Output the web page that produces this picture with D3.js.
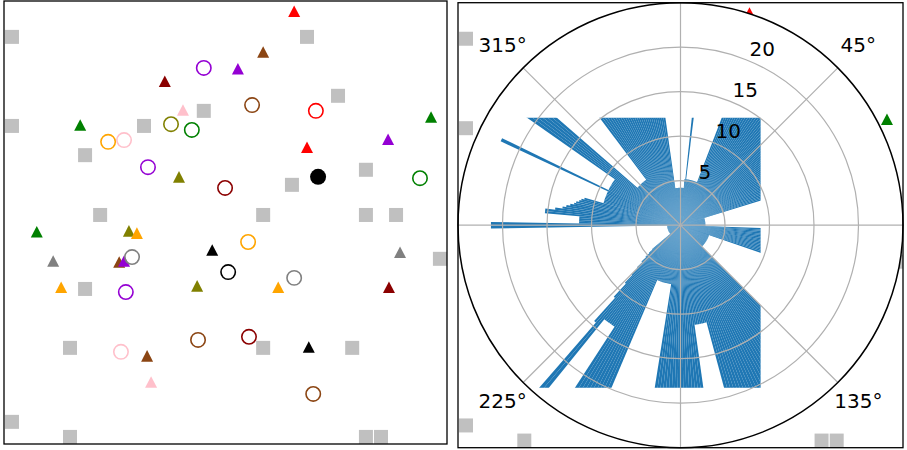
<!DOCTYPE html>
<html>
<head>
<meta charset="utf-8">
<script src="https://cdn.jsdelivr.net/npm/d3@7"></script>
<style>
  html, body { margin: 0; padding: 0; background: #fff; }
  svg { display: block; }
</style>
</head>
<body>
<div id="chart"></div>
<script>
// ---- scatter data (x, y in 0..100 data units) ----
const squarePoints = [
  [1.8, 91.9], [1.8, 71.8], [31.6, 71.8], [45.1, 75.2], [18.3, 65.2], [21.7, 51.7],
  [68.4, 91.9], [75.4, 78.6], [81.7, 61.9], [65.0, 58.5], [58.5, 51.7], [81.7, 51.7],
  [88.5, 51.7], [18.3, 35.0], [98.4, 41.8], [14.9, 21.7], [58.5, 21.7], [78.6, 21.7],
  [1.8, 5.0], [14.9, 1.6], [81.7, 1.6], [85.1, 1.6]
];
const trianglePoints = [
  [65.5, 97.7, "#ff0000"], [58.5, 88.5, "#8b4513"], [52.8, 84.7, "#9400d3"],
  [36.3, 81.9, "#8b0000"], [40.4, 75.4, "#ffc0cb"], [17.2, 72.0, "#008000"],
  [96.4, 73.8, "#008000"], [86.7, 68.8, "#9400d3"], [68.4, 67.0, "#ff0000"],
  [39.5, 60.3, "#808000"], [7.4, 47.9, "#008000"], [28.2, 48.1, "#808000"],
  [30.0, 47.6, "#ffa500"], [47.0, 43.8, "#000000"], [11.1, 41.3, "#808080"],
  [26.0, 41.1, "#8b4513"], [27.1, 41.3, "#9400d3"], [89.4, 43.3, "#808080"],
  [12.9, 35.4, "#ffa500"], [43.6, 35.7, "#808000"], [61.9, 35.4, "#ffa500"],
  [86.9, 35.4, "#8b0000"], [68.8, 21.9, "#000000"], [32.3, 19.9, "#8b4513"],
  [33.2, 14.0, "#ffc0cb"]
];
const circlePoints = [
  [45.1, 84.9, "#9400d3"], [56.0, 76.5, "#8b4513"], [70.4, 75.2, "#ff0000"],
  [23.5, 68.2, "#ffa500"], [27.1, 68.6, "#ffc0cb"], [37.7, 72.2, "#808000"],
  [42.4, 70.9, "#008000"], [32.5, 62.5, "#9400d3"], [49.9, 57.8, "#8b0000"],
  [93.9, 60.0, "#008000"], [55.1, 45.6, "#ffa500"], [28.9, 42.2, "#808080"],
  [50.6, 38.8, "#000000"], [65.5, 37.5, "#808080"], [27.5, 34.3, "#9400d3"],
  [43.8, 23.5, "#8b4513"], [55.3, 24.2, "#8b0000"], [26.4, 20.8, "#ffc0cb"],
  [69.8, 11.3, "#8b4513"]
];
const filledCirclePoints = [[70.9, 60.3, "#000000"]];

// ---- polar bar data: one bar per degree, bearing clockwise from north ----
const barRadii = [
  4.2, 4.2, 4.2, 4.2, 4.2, 5.2, 25, 5.2, 5.2, 5.2,          // 0-9
  5.2, 5.2, 5.2, 5.2, 5.2, 5.2, 5.2, 5.2, 5.2, 5.2,         // 10-19
  5.2, 25, 25, 25, 25, 25, 25, 25, 25, 25,                  // 20-29
  25, 25, 25, 25, 25, 25, 25, 25, 25, 25,                   // 30-39
  25, 25, 25, 25, 25, 25, 25, 25, 25, 25,                   // 40-49
  25, 25, 25, 25, 25, 25, 25, 25, 25, 25,                   // 50-59
  25, 25, 25, 25, 25, 25, 25, 25, 25, 25,                   // 60-69
  25, 25, 25, 2.8, 2.8, 2.8, 2.8, 2.8, 2.8, 2.8,            // 70-79
  2.8, 2.8, 2.8, 2.8, 2.8, 2.8, 2.8, 2.8, 2.8, 2.8,         // 80-89
  2.8, 2.8, 25, 25, 25, 25, 25, 25, 25, 25,                 // 90-99
  25, 25, 25, 25, 25, 25, 25, 25, 25, 3.4,                  // 100-109
  3.4, 3.4, 3.4, 3.4, 3.4, 3.4, 3.4, 3.4, 3.4, 3.4,         // 110-119
  3.4, 3.4, 3.4, 3.4, 3.4, 3.4, 3.4, 3.4, 3.4, 3.4,         // 120-129
  3.4, 3.4, 3.4, 3.4, 3.4, 25, 25, 25, 25, 25,              // 130-139
  25, 25, 25, 25, 25, 25, 25, 25, 25, 25,                   // 140-149
  25, 25, 25, 25, 25, 25, 25, 25, 25, 25,                   // 150-159
  25, 25, 25, 25, 25, 11.3, 11.3, 11.3, 11.3, 11.3,         // 160-169
  11.3, 11.3, 25, 25, 25, 25, 25, 25, 25, 25,               // 170-179
  25, 25, 25, 25, 25, 25, 25, 25, 25, 6.7,                  // 180-189
  6.7, 6.7, 6.7, 6.7, 6.7, 6.7, 6.7, 6.7, 6.7, 6.7,         // 190-199
  6.7, 6.7, 6.7, 25, 25, 25, 25, 25, 25, 25,                // 200-209
  25, 25, 25, 13.6, 13.6, 13.6, 13.6, 13.6, 13.6, 25,       // 210-219
  25, 14.5, 11, 9, 7.8, 6.8, 6, 5.3, 4.7, 4.2,              // 220-229
  1.5, 1.5, 1.5, 1.5, 1.5, 1.5, 1.5, 1.5, 1.5, 1.5,         // 230-239
  1.5, 1.5, 1.5, 1.5, 1.5, 1.5, 1.5, 1.5, 1.5, 1.5,         // 240-249
  1.5, 1.5, 1.5, 1.5, 1.5, 1.5, 1.5, 1.5, 1.5, 1.5,         // 250-259
  1.5, 1.5, 1.5, 1.5, 1.5, 1.5, 1.5, 1.5, 1.5, 21.3,        // 260-269
  21.3, 11.4, 11.4, 11.4, 11.4, 15.3, 15.3, 14.2, 13.4, 13,  // 270-279
  12.6, 12.2, 12, 11.7, 11.5, 11.2, 9, 9, 9, 9,             // 280-289
  9, 9, 9, 9, 9, 22.3, 9, 9, 9, 9,                          // 290-299
  9, 9, 9, 9, 9, 25, 25, 25, 25, 25,                        // 300-309
  25, 6.4, 6.4, 6.4, 6.4, 6.4, 6.4, 6.4, 6.4, 6.4,          // 310-319
  6.4, 6.4, 6.4, 25, 25, 25, 25, 25, 25, 25,                // 320-329
  25, 25, 25, 25, 25, 25, 25, 25, 25, 25,                   // 330-339
  25, 25, 25, 25, 25, 25, 25, 25, 25, 25,                   // 340-349
  25, 25, 4.2, 4.2, 4.2, 4.2, 4.2, 4.2, 4.2, 4.2            // 350-359
];
const radialTicks = [5, 10, 15, 20];
const thetaGridDeg = [0, 45, 90, 135, 180, 225, 270, 315];
const thetaLabelDeg = [45, 135, 225, 315];
const rMax = 25;
// visible window of the bars, in radial units from the centre
const barWindow = { right: 9.0, top: 12.08, bottom: 18.26, left: 25 };

// ---- layout ----
const W = 907, H = 450;
const svg = d3.select("#chart").append("svg").attr("width", W).attr("height", H);
const font = "DejaVu Sans, sans-serif";

const leftBox = { x0: 4, x1: 447, y0: 1, y1: 444 };
const rightBox = { x0: 458, x1: 903, y0: 2.7, y1: 447.7 };

function drawScatter(g, box, clipId) {
  const x = d3.scaleLinear().domain([0, 100]).range([box.x0, box.x1]);
  const y = d3.scaleLinear().domain([0, 100]).range([box.y1, box.y0]);
  svg.append("clipPath").attr("id", clipId).append("rect")
    .attr("x", box.x0).attr("y", box.y0)
    .attr("width", box.x1 - box.x0).attr("height", box.y1 - box.y0);
  const layer = g.append("g").attr("clip-path", `url(#${clipId})`);
  const sq = 14;
  layer.selectAll("rect.sq").data(squarePoints).join("rect").attr("class", "sq")
    .attr("x", d => x(d[0]) - sq / 2).attr("y", d => y(d[1]) - sq / 2)
    .attr("width", sq).attr("height", sq).attr("fill", "#c0c0c0");
  const tw = 6, th = 5.8;
  layer.selectAll("path.tri").data(trianglePoints).join("path").attr("class", "tri")
    .attr("d", d => {
      const px = x(d[0]), py = y(d[1]);
      return `M${px},${py - th}L${px + tw},${py + th}L${px - tw},${py + th}Z`;
    })
    .attr("fill", d => d[2]);
  layer.selectAll("circle.hollow").data(circlePoints).join("circle").attr("class", "hollow")
    .attr("cx", d => x(d[0])).attr("cy", d => y(d[1])).attr("r", 7.2)
    .attr("fill", "none").attr("stroke", d => d[2]).attr("stroke-width", 1.6);
  layer.selectAll("circle.filled").data(filledCirclePoints).join("circle").attr("class", "filled")
    .attr("cx", d => x(d[0])).attr("cy", d => y(d[1])).attr("r", 8)
    .attr("fill", d => d[2]);
}

// ---- left panel: scatter ----
const left = svg.append("g");
drawScatter(left, leftBox, "clipLeft");
left.append("rect")
  .attr("x", leftBox.x0).attr("y", leftBox.y0)
  .attr("width", leftBox.x1 - leftBox.x0).attr("height", leftBox.y1 - leftBox.y0)
  .attr("fill", "none").attr("stroke", "#000").attr("stroke-width", 1.3);

// ---- right panel: scatter behind a polar bar chart ----
const right = svg.append("g");
drawScatter(right, rightBox, "clipRight");

const cx = (rightBox.x0 + rightBox.x1) / 2;
const cy = (rightBox.y0 + rightBox.y1) / 2;
const R = (rightBox.x1 - rightBox.x0) / 2;
const rScale = d3.scaleLinear().domain([0, rMax]).range([0, R]);
const toRad = d => d * Math.PI / 180;

// polar background disc
right.append("circle").attr("cx", cx).attr("cy", cy).attr("r", R).attr("fill", "#fff");

svg.append("clipPath").attr("id", "barClip").append("rect")
  .attr("x", cx - rScale(barWindow.left)).attr("y", cy - rScale(barWindow.top))
  .attr("width", rScale(barWindow.left) + rScale(barWindow.right))
  .attr("height", rScale(barWindow.top) + rScale(barWindow.bottom));

const bars = barRadii.map((v, i) => ({ a0: toRad(i), a1: toRad(i + 1), value: v }));
const arc = d3.arc()
  .innerRadius(0)
  .outerRadius(d => rScale(d.value))
  .startAngle(d => d.a0)
  .endAngle(d => d.a1);

right.append("g").attr("clip-path", "url(#barClip)")
  .append("g").attr("transform", `translate(${cx},${cy})`)
  .selectAll("path").data(bars).join("path")
  .attr("d", arc).attr("fill", "#1f77b4");

const grid = right.append("g").attr("transform", `translate(${cx},${cy})`)
  .attr("stroke", "#b0b0b0").attr("stroke-width", 1.2).attr("fill", "none");
grid.selectAll("circle").data(radialTicks).join("circle").attr("r", d => rScale(d));
grid.selectAll("line").data(thetaGridDeg).join("line")
  .attr("x1", 0).attr("y1", 0)
  .attr("x2", d => R * Math.sin(toRad(d))).attr("y2", d => -R * Math.cos(toRad(d)));

const labels = right.append("g").attr("transform", `translate(${cx},${cy})`)
  .attr("font-family", font).attr("font-size", 20).attr("fill", "#000");
const rLabelDeg = 22.5;
labels.selectAll("text.rl").data(radialTicks).join("text").attr("class", "rl")
  .attr("x", d => rScale(d) * Math.sin(toRad(rLabelDeg)) + 1)
  .attr("y", d => -rScale(d) * Math.cos(toRad(rLabelDeg)) - 5)
  .text(d => d);
const thetaLabelR = 251.5;
labels.selectAll("text.tl").data(thetaLabelDeg).join("text").attr("class", "tl")
  .attr("text-anchor", "middle").attr("dominant-baseline", "central")
  .attr("x", d => thetaLabelR * Math.sin(toRad(d)))
  .attr("y", d => -thetaLabelR * Math.cos(toRad(d)) - 2)
  .text(d => d + "°");

right.append("circle").attr("cx", cx).attr("cy", cy).attr("r", R)
  .attr("fill", "none").attr("stroke", "#000").attr("stroke-width", 1.5);
right.append("rect")
  .attr("x", rightBox.x0).attr("y", rightBox.y0)
  .attr("width", rightBox.x1 - rightBox.x0).attr("height", rightBox.y1 - rightBox.y0)
  .attr("fill", "none").attr("stroke", "#000").attr("stroke-width", 1.3);
</script>
</body>
</html>
